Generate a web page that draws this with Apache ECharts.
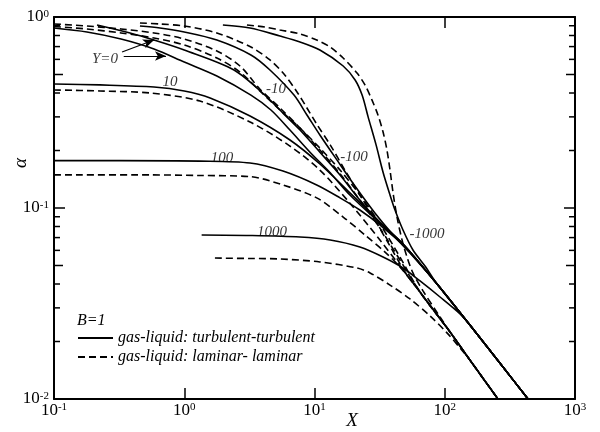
<!DOCTYPE html>
<html>
<head>
<meta charset="utf-8">
<script src="https://cdn.jsdelivr.net/npm/echarts@6/dist/echarts.min.js"></script>
<style>
  html, body { margin: 0; padding: 0; background: #fff; }
  #chart { width: 600px; height: 432px; }
</style>
</head>
<body>
<div id="chart"></div>
<script>
// alpha vs X, B=1, curves for Y = 0, 10, 100, 1000, -10, -100, -1000
var SOLID_NAME = 'gas-liquid: turbulent-turbulent';
var DASH_NAME = 'gas-liquid: laminar- laminar';

// turbulent-turbulent (solid)
var tY0 = [[0.1,0.876],[0.179,0.835],[0.327,0.767],[0.586,0.680],[1.0,0.581],[1.78,0.491],[3.25,0.390],[4.63,0.326],[6.48,0.256],[9.24,0.196],[13.2,0.153],[18.7,0.117],[31.8,0.0835],[47.8,0.0648],[87.3,0.0400],[156,0.0244],[280,0.0147],[436,0.01]];
var tY10 = [[0.1,0.446],[0.2255,0.441],[0.586,0.430],[1.0,0.410],[1.58,0.377],[3.20,0.303],[6.48,0.227],[11.0,0.170],[18.7,0.120],[31.8,0.0845],[47.8,0.0648],[87.3,0.0400],[156,0.0244],[280,0.0147],[436,0.01]];
var tY100 = [[0.1,0.177],[0.321,0.177],[1.32,0.176],[3.20,0.172],[5.73,0.156],[10.4,0.132],[15.7,0.113],[22.3,0.0976],[31.8,0.0815],[47.8,0.0640],[87.3,0.0400],[156,0.0244],[280,0.0147],[436,0.01]];
var tY1000 = [[1.36,0.0722],[3.20,0.0718],[7.74,0.0705],[13.2,0.0680],[22.3,0.0625],[33.6,0.0554],[47.8,0.0485],[64.6,0.0415],[92.0,0.0342],[131,0.0279],[156,0.0244],[280,0.0147],[436,0.01]];
var tYm10 = [[0.214,0.908],[0.383,0.825],[0.586,0.758],[1.0,0.672],[2.41,0.528],[4.32,0.381],[5.83,0.310],[7.74,0.256],[11.0,0.196],[15.7,0.149],[22.3,0.110],[31.8,0.0835],[47.8,0.0648],[87.3,0.0400],[156,0.0244],[280,0.0147],[436,0.01]];
var tYm100 = [[0.457,0.897],[0.651,0.876],[1.0,0.835],[1.78,0.758],[3.25,0.633],[4.55,0.528],[6.96,0.390],[8.75,0.307],[11.0,0.241],[14.9,0.178],[20.5,0.130],[29.1,0.0942],[41.5,0.0705],[54.1,0.0581],[87.3,0.0400],[156,0.0244],[280,0.0147],[436,0.01]];
var tYm1000 = [[1.98,0.908],[3.20,0.876],[5.43,0.795],[7.74,0.740],[11.0,0.672],[16.6,0.554],[20.5,0.468],[23.2,0.390],[25.8,0.300],[29.7,0.214],[33.6,0.154],[38.0,0.117],[41.5,0.0976],[47.8,0.0767],[57.0,0.0603],[70.5,0.0497],[87.3,0.0400],[156,0.0244],[280,0.0147],[436,0.01]];

// laminar-laminar (dashed)
var lY0 = [[0.1,0.892],[0.179,0.865],[0.327,0.825],[0.586,0.776],[1.0,0.714],[1.78,0.610],[2.68,0.515],[3.95,0.400],[5.43,0.326],[7.74,0.262],[11.0,0.206],[15.7,0.158],[22.3,0.117],[31.8,0.0825],[45.3,0.0554],[64.6,0.0363],[110,0.0224],[156,0.016],[256,0.01]];
var lY10 = [[0.1,0.415],[0.2255,0.410],[0.546,0.400],[1.32,0.363],[3.20,0.282],[6.48,0.211],[11.0,0.158],[18.7,0.106],[31.8,0.0680],[45.3,0.0497],[64.6,0.0363],[110,0.0224],[156,0.016],[256,0.01]];
var lY100 = [[0.1,0.149],[0.546,0.149],[1.32,0.148],[3.20,0.146],[5.73,0.132],[10.4,0.113],[16.6,0.0897],[24.4,0.0722],[34.8,0.0588],[45.3,0.0491],[64.6,0.0363],[110,0.0224],[156,0.016],[256,0.01]];
var lY1000 = [[1.72,0.0547],[3.20,0.0544],[5.43,0.0541],[11.0,0.0522],[21.2,0.0485],[26.7,0.0457],[38.0,0.0395],[54.1,0.0334],[77.1,0.0272],[104,0.0222],[131,0.0185],[156,0.016],[256,0.01]];
var lYm10 = [[0.1,0.919],[0.179,0.897],[0.327,0.865],[0.586,0.825],[1.0,0.767],[1.78,0.664],[2.68,0.554],[3.80,0.420],[5.43,0.334],[7.74,0.262],[11.0,0.201],[15.7,0.151],[22.3,0.110],[31.8,0.0785],[45.3,0.0534],[64.6,0.0363],[110,0.0224],[156,0.016],[256,0.01]];
var lYm100 = [[0.457,0.930],[0.651,0.919],[1.0,0.897],[1.78,0.825],[3.25,0.696],[4.55,0.596],[5.83,0.503],[7.34,0.405],[8.75,0.334],[10.4,0.275],[13.2,0.214],[17.1,0.158],[22.3,0.117],[29.1,0.0865],[38.0,0.0632],[49.5,0.0462],[64.6,0.0363],[110,0.0224],[156,0.016],[256,0.01]];
var lYm1000 = [[3.03,0.908],[4.17,0.886],[5.43,0.855],[7.74,0.815],[10.4,0.758],[13.2,0.696],[16.6,0.610],[21.2,0.509],[24.4,0.441],[27.6,0.368],[30.7,0.307],[33.6,0.250],[36.0,0.201],[38.0,0.158],[40.1,0.120],[43.0,0.0897],[47.0,0.0680],[51.3,0.0554],[57.0,0.0457],[68.1,0.0368],[92.0,0.0269],[110,0.0224],[156,0.016],[256,0.01]];

// curve labels (anchored in data units)
var curveLabelText = ['Y=0', '10', '100', '1000', '-10', '-100', '-1000'];
var curveLabelX = [0.246, 0.777, 1.95, 4.72, 5.06, 20.1, 73.1];
var curveLabelY = [0.603, 0.457, 0.183, 0.0749, 0.420, 0.185, 0.0731];

// arrows from the Y=0 label
var arrowFrom = [[0.333, 0.656], [0.343, 0.625]];
var arrowTo = [[0.586, 0.758], [0.724, 0.625]];

// minor ticks on the alpha axis
var yMinorTicks = [0.02, 0.03, 0.04, 0.05, 0.06, 0.07, 0.08, 0.09,
	0.2, 0.3, 0.4, 0.5, 0.6, 0.7, 0.8, 0.9];

var SERIF = "'Liberation Serif', 'Times New Roman', serif";

var myChart = echarts.init(document.getElementById('chart'));

function powLabel(v) {
	return '{b|10}{s|' + Math.round(v) + '}';
}
var powRich = {
	b: { fontFamily: SERIF, fontSize: 17, color: '#000' },
	s: { fontFamily: SERIF, fontSize: 11, color: '#000', verticalAlign: 'top' }
};

// helper axes carry the frame, major ticks and the 10^n labels (log10 units)
function tickAxis(pos, withLabel, lo, hi) {
	return {
		type: 'value', position: pos, min: lo, max: hi, interval: 1,
		axisLine: { show: true, onZero: false, lineStyle: { color: '#000', width: 2 } },
		axisTick: { show: true, inside: true, length: 11, lineStyle: { color: '#000', width: 1.5 } },
		axisLabel: withLabel ? { show: true, formatter: powLabel, rich: powRich,
			margin: pos === 'bottom' ? 3 : 5 } : { show: false },
		splitLine: { show: false }
	};
}

var solidSets = [tY0, tY10, tY100, tY1000, tYm10, tYm100, tYm1000];
var dashSets = [lY0, lY10, lY100, lY1000, lYm10, lYm100, lYm1000];

var series = [];
solidSets.forEach(function (d) {
	series.push({
		name: SOLID_NAME, type: 'line', data: d, symbol: 'none', showSymbol: false,
		smooth: 0.3, xAxisIndex: 0, yAxisIndex: 0,
		lineStyle: { color: '#000', width: 1.6, type: 'solid' }
	});
});
dashSets.forEach(function (d) {
	series.push({
		name: DASH_NAME, type: 'line', data: d, symbol: 'none', showSymbol: false,
		smooth: 0.3, xAxisIndex: 0, yAxisIndex: 0,
		lineStyle: { color: '#000', width: 1.6, type: [7, 4] }
	});
});

var labelData = curveLabelText.map(function (t, i) {
	return [curveLabelX[i], curveLabelY[i]];
});
series.push({
	name: 'labels', type: 'scatter', data: labelData, symbolSize: 0,
	xAxisIndex: 0, yAxisIndex: 0, silent: true,
	label: {
		show: true, position: 'inside',
		formatter: function (p) { return curveLabelText[p.dataIndex]; },
		fontFamily: SERIF, fontStyle: 'italic', fontSize: 15, color: '#000'
	},
	markLine: {
		silent: true, symbol: ['none', 'arrow'], symbolSize: [7, 11],
		label: { show: false },
		lineStyle: { color: '#000', width: 1.2, type: 'solid' },
		data: arrowFrom.map(function (a, i) {
			return [{ coord: a }, { coord: arrowTo[i] }];
		})
	}
});

// minor ticks on both vertical edges, placed through the log scale
series.push({
	name: 'minorTicks', type: 'custom', xAxisIndex: 0, yAxisIndex: 0, silent: true, clip: false,
	data: yMinorTicks.map(function (v) { return [0.1, v]; }),
	renderItem: function (params, api) {
		var v = api.value(1);
		var l = api.coord([0.1, v]);
		var r = api.coord([1000, v]);
		var mant = v / Math.pow(10, Math.floor(Math.log10(v) + 1e-9));
		var len = Math.abs(mant - 5) < 1e-6 ? 9 : 6;
		var st = { stroke: '#000', lineWidth: 1.5 };
		return {
			type: 'group',
			children: [
				{ type: 'line', shape: { x1: l[0], y1: l[1], x2: l[0] + len, y2: l[1] }, style: st },
				{ type: 'line', shape: { x1: r[0] - len, y1: r[1], x2: r[0], y2: r[1] }, style: st }
			]
		};
	}
});

option = {
	animation: false,
	backgroundColor: '#fff',
	grid: { left: 54, right: 25, top: 17, bottom: 33, containLabel: false },
	title: {
		text: 'B=1', left: 77, top: 313, padding: 0,
		textStyle: { fontFamily: SERIF, fontStyle: 'italic', fontWeight: 'normal', fontSize: 16, color: '#000' }
	},
	legend: {
		data: [SOLID_NAME, DASH_NAME],
		orient: 'vertical', left: 77, top: 330, padding: 0,
		itemWidth: 35, itemHeight: 14, itemGap: 3,
		itemStyle: { opacity: 0 },
		textStyle: { fontFamily: SERIF, fontStyle: 'italic', fontSize: 16, color: '#000', lineHeight: 16 },
		selectedMode: false
	},
	xAxis: [
		{ type: 'log', logBase: 10, min: 0.1, max: 1000, show: false, position: 'bottom' },
		tickAxis('bottom', true, -1, 3),
		tickAxis('top', false, -1, 3)
	],
	yAxis: [
		{ type: 'log', logBase: 10, min: 0.01, max: 1, show: false, position: 'left' },
		tickAxis('left', true, -2, 0),
		tickAxis('right', false, -2, 0)
	],
	graphic: [
		{ type: 'text', x: 352, y: 421, style: { text: 'X', font: 'italic 19px ' + SERIF, fill: '#000', textAlign: 'center', textVerticalAlign: 'middle' } },
		{ type: 'text', x: 21, y: 163, rotation: Math.PI / 2, style: { text: 'α', font: 'italic 19px ' + SERIF, fill: '#000', textAlign: 'center', textVerticalAlign: 'middle' } }
	],
	series: series
};

myChart.setOption(option);
</script>
</body>
</html>
